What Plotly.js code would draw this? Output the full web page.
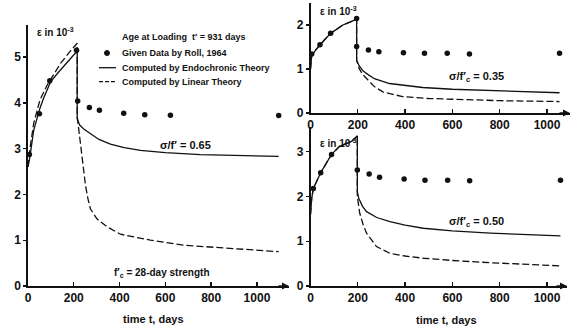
<!DOCTYPE html>
<html>
<head>
<meta charset="utf-8">
<script src="https://cdn.plot.ly/plotly-3.0.1.min.js"></script>
<style>html,body{margin:0;padding:0;background:#fff;}#chart{width:571px;height:328px;}</style>
</head>
<body>
<div id="chart"></div>
<script>
// ---- Panel A (left): sigma/f' = 0.65 ----
const dataT_A = [6, 50, 95, 212, 217, 268, 312, 418, 510, 622, 1095];
const dataV_A = [2.87, 3.76, 4.48, 5.15, 4.04, 3.90, 3.84, 3.77, 3.74, 3.73, 3.72];
const endoT_A = [0, 8, 25, 50, 68, 98, 130, 156, 185, 215, 215, 225, 245, 273, 310, 360, 420, 491, 600, 753, 900, 1095];
const endoV_A = [2.6, 2.81, 3.4, 3.85, 4.1, 4.45, 4.65, 4.8, 4.97, 5.13, 3.65, 3.52, 3.42, 3.32, 3.2, 3.1, 3.02, 2.96, 2.91, 2.87, 2.85, 2.83];
const linT_A = [0, 10, 25, 52, 84, 115, 142, 180, 215, 215, 222, 230, 237, 244, 251, 262, 273, 302, 346, 404, 470, 535, 680, 898, 1095];
const linV_A = [2.6, 3.05, 3.55, 4.06, 4.39, 4.65, 4.86, 5.1, 5.3, 3.7, 3.4, 3.05, 2.75, 2.5, 2.2, 1.9, 1.68, 1.46, 1.29, 1.13, 1.06, 1.0, 0.89, 0.82, 0.75];

// ---- Panel B (top right): sigma/f'c = 0.35 ----
const dataT_B = [5, 40, 85, 195, 195, 245, 289, 393, 482, 578, 672, 1053];
const dataV_B = [1.34, 1.55, 1.81, 2.15, 1.51, 1.43, 1.39, 1.37, 1.36, 1.36, 1.34, 1.36];
const endoT_B = [0, 5, 20, 40, 85, 137, 195, 195, 205, 220, 236, 270, 334, 400, 474, 600, 757, 1053];
const endoV_B = [1.0, 1.3, 1.42, 1.55, 1.81, 2.0, 2.13, 1.2, 1.08, 0.97, 0.9, 0.78, 0.67, 0.62, 0.58, 0.54, 0.51, 0.46];
const linT_B = [0, 5, 20, 40, 85, 137, 195, 195, 205, 220, 236, 270, 306, 390, 500, 616, 800, 1053];
const linV_B = [1.0, 1.3, 1.42, 1.55, 1.81, 2.0, 2.13, 1.2, 1.02, 0.88, 0.79, 0.6, 0.48, 0.37, 0.33, 0.31, 0.28, 0.26];

// ---- Panel C (bottom right): sigma/f'c = 0.50 ----
const dataT_C = [12, 43, 89, 198, 248, 292, 396, 484, 580, 673, 1057];
const dataV_C = [2.18, 2.53, 2.94, 2.59, 2.5, 2.43, 2.39, 2.36, 2.36, 2.35, 2.36];
const endoT_C = [0, 5, 12, 43, 89, 123, 173, 198, 198, 204, 220, 237, 280, 336, 400, 477, 600, 760, 1057];
const endoV_C = [1.6, 1.95, 2.18, 2.53, 2.94, 3.12, 3.23, 3.35, 2.1, 1.96, 1.78, 1.66, 1.53, 1.44, 1.36, 1.29, 1.23, 1.18, 1.12];
const linT_C = [0, 5, 12, 43, 89, 123, 173, 198, 198, 208, 222, 237, 279, 336, 400, 477, 600, 760, 1057];
const linV_C = [1.6, 1.95, 2.18, 2.53, 2.94, 3.12, 3.23, 3.35, 2.0, 1.63, 1.38, 1.18, 0.88, 0.73, 0.67, 0.62, 0.57, 0.52, 0.45];

const xTicks = [0, 200, 400, 600, 800, 1000];
const yTicksA = [0, 1, 2, 3, 4, 5];
const yTicksB = [0, 1, 2];
const yTicksC = [0, 1, 2, 3];

const legendTitle = "Age at Loading  t′ = 931 days";
const nameData = "Given Data by Roll, 1964";
const nameEndo = "Computed by Endochronic Theory";
const nameLin = "Computed by Linear Theory";

// ---- layout helpers (pixel -> paper) ----
const W = 571, H = 328;
const px = x => x / W;
const py = y => 1 - y / H;
const FONT = "Liberation Sans, Arial, sans-serif";
const INK = "#111";
const DASH = "7px,3px";

function panel(tD, vD, tE, vE, tL, vL, xa, ya) {
  return [
    {x: tE, y: vE, xaxis: xa, yaxis: ya, type: "scatter", mode: "lines", name: nameEndo,
     line: {color: INK, width: 1.3}, showlegend: false},
    {x: tL, y: vL, xaxis: xa, yaxis: ya, type: "scatter", mode: "lines", name: nameLin,
     line: {color: INK, width: 1.3, dash: DASH}, showlegend: false},
    {x: tD, y: vD, xaxis: xa, yaxis: ya, type: "scatter", mode: "markers", name: nameData,
     marker: {color: INK, size: 5.5}, showlegend: false}
  ];
}

const traces = [].concat(
  panel(dataT_A, dataV_A, endoT_A, endoV_A, linT_A, linV_A, "x", "y"),
  panel(dataT_B, dataV_B, endoT_B, endoV_B, linT_B, linV_B, "x2", "y2"),
  panel(dataT_C, dataV_C, endoT_C, endoV_C, linT_C, linV_C, "x3", "y3")
);

const tickFont = {family: FONT, size: 12, color: INK, weight: "bold"};
function xax(d0, d1, range, anchor) {
  return {domain: [d0, d1], range: range, anchor: anchor, tickvals: xTicks, ticktext: xTicks.map(String),
          showline: true, linecolor: INK, linewidth: 1.6, ticks: "inside", ticklen: 4, tickwidth: 1.4,
          tickcolor: INK, showgrid: false, zeroline: false, tickfont: tickFont, fixedrange: true};
}
function yax(d0, d1, range, anchor, tv) {
  return {domain: [d0, d1], range: range, anchor: anchor, tickvals: tv, ticktext: tv.map(String),
          showline: true, linecolor: INK, linewidth: 1.6, ticks: "outside", ticklen: 3, tickwidth: 1.4,
          tickcolor: INK, showgrid: false, zeroline: false, tickfont: tickFont, fixedrange: true};
}

const txt = (text, x, y, xanchor, size) => ({
  text: text, xref: "paper", yref: "paper", x: px(x), y: py(y), xanchor: xanchor || "left", yanchor: "middle",
  showarrow: false, font: {family: FONT, size: size || 11, color: INK, weight: "bold"}
});
const arrowAt = (xr, yr, xv) => ({
  xref: xr, yref: yr, x: xv, y: 0, ax: -12, ay: 0, axref: "pixel", ayref: "pixel",
  showarrow: true, arrowhead: 2, arrowsize: 1, arrowwidth: 1.4, arrowcolor: INK, text: ""
});

// manual legend (key symbols in paper space)
const legendShapes = [
  {type: "circle", xref: "paper", yref: "paper", x0: px(104.5), x1: px(109.5), y0: py(55.5), y1: py(50.5),
   fillcolor: INK, line: {color: INK, width: 1}},
  {type: "line", xref: "paper", yref: "paper", x0: px(99), x1: px(116), y0: py(67.7), y1: py(67.7),
   line: {color: INK, width: 1.3}},
  {type: "line", xref: "paper", yref: "paper", x0: px(99), x1: px(116), y0: py(81.7), y1: py(81.7),
   line: {color: INK, width: 1.3, dash: "4px,2px"}}
];

const layout = {
  width: W, height: H,
  margin: {l: 0, r: 0, t: 0, b: 0},
  paper_bgcolor: "#fff", plot_bgcolor: "rgba(0,0,0,0)",
  showlegend: false,
  xaxis: xax(px(28), px(289), [0, 1140], "y"),
  yaxis: yax(py(286), py(25), [0, (286 - 25) / 45.8], "x", yTicksA),
  xaxis2: xax(px(310.5), px(570), [0, (570 - 310.5) / 0.2365], "y2"),
  yaxis2: yax(py(113), py(3), [0, (113 - 3) / 44], "x2", yTicksB),
  xaxis3: xax(px(310.5), px(567), [0, (567 - 310.5) / 0.2365], "y3"),
  yaxis3: yax(py(286), py(127), [0, (286 - 127) / 44.77], "x3", yTicksC),
  shapes: legendShapes,
  annotations: [
    txt(legendTitle, 120, 37, "left", 9),
    txt(nameData, 120, 53, "left", 9),
    txt(nameEndo, 120, 67.7, "left", 9),
    txt(nameLin, 120, 81.7, "left", 9),
    txt("ε in 10<sup>-3</sup>", 35, 32, "left", 10),
    txt("ε in 10<sup>-3</sup>", 318, 11, "left", 10),
    txt("ε in 10<sup>-3</sup>", 318, 143, "left", 10),
    txt("σ/f′ = 0.65", 158, 145, "left", 11),
    txt("σ/f′<sub>c</sub> = 0.35", 447, 77, "left", 11),
    txt("σ/f′<sub>c</sub> = 0.50", 447, 222, "left", 11),
    txt("f′<sub>c</sub> = 28-day strength", 112, 273, "left", 10),
    txt("time t, days", 153, 319, "center", 11),
    txt("time t, days", 446, 320, "center", 11),
    arrowAt("x", "y", 1140),
    arrowAt("x2", "y2", (570 - 310.5) / 0.2365),
    arrowAt("x3", "y3", (567 - 310.5) / 0.2365)
  ]
};

Plotly.newPlot("chart", traces, layout, {staticPlot: true, displayModeBar: false});
</script>
</body>
</html>
